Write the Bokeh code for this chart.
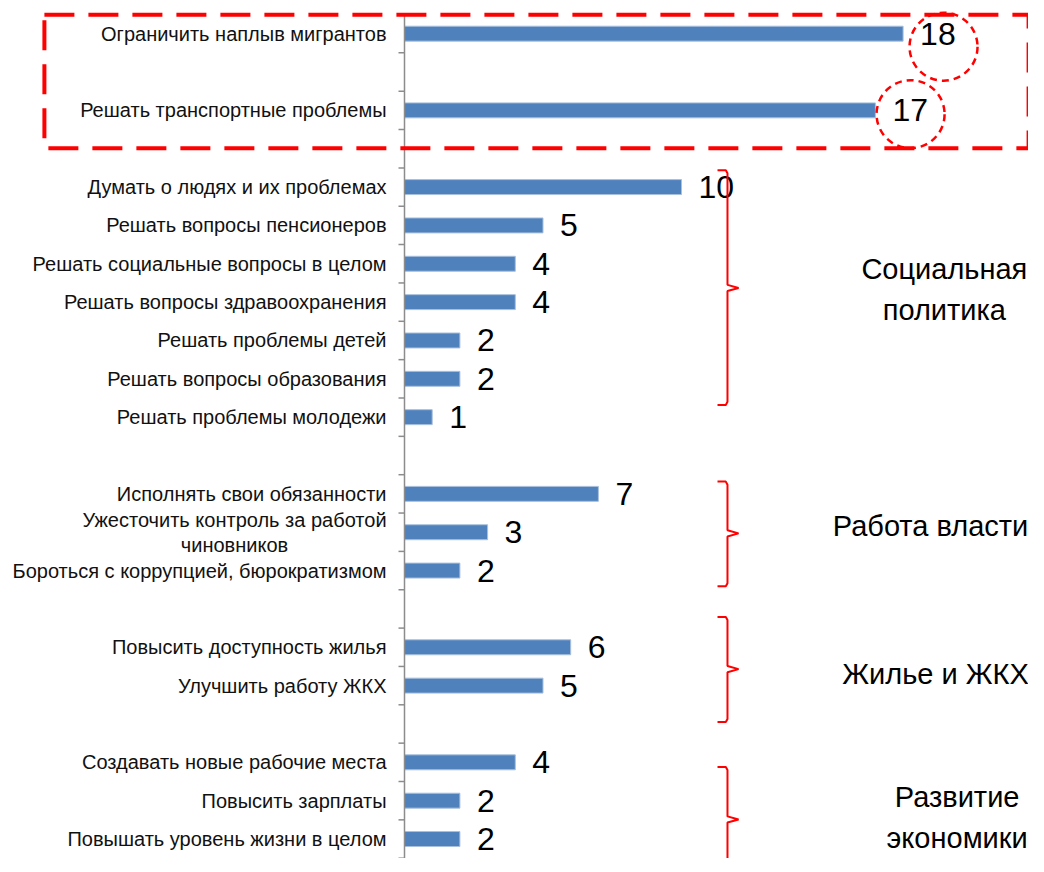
from bokeh.plotting import figure
from bokeh.models import Range1d, ColumnDataSource
from bokeh.core.properties import value
from bokeh.embed import file_html
from bokeh.resources import INLINE

# ---------------- data ----------------
labels = [
    "Ограничить наплыв мигрантов",
    "Решать транспортные проблемы",
    "Думать о людях и их проблемах",
    "Решать вопросы пенсионеров",
    "Решать социальные вопросы в целом",
    "Решать вопросы здравоохранения",
    "Решать проблемы детей",
    "Решать вопросы образования",
    "Решать проблемы молодежи",
    "Исполнять свои обязанности",
    "Ужесточить контроль за работой\nчиновников",
    "Бороться с коррупцией, бюрократизмом",
    "Повысить доступность жилья",
    "Улучшить работу ЖКХ",
    "Создавать новые рабочие места",
    "Повысить зарплаты",
    "Повышать уровень жизни в целом",
]
values = [18, 17, 10, 5, 4, 4, 2, 2, 1, 7, 3, 2, 6, 5, 4, 2, 2]
group_sizes = [1, 1, 7, 3, 2, 3]
group_titles = ["Социальная\nполитика", "Работа власти", "Жилье и ЖКХ", "Развитие\nэкономики"]

# ---------------- annotation placement (slot / value units) ----------------
brace_top = [3.56, 11.68, 15.21, 19.12]
brace_bottom = [9.68, 14.41, 17.95, 22.8]
brace_tip = [6.63, 13.03, 16.57, 20.49]
brace_x, brace_hook_x, brace_tip_x = 11.66, 11.30, 12.06
group_label_x = [19.49, 18.99, 19.17, 19.95]
group_label_y = [6.68, 12.85, 16.7, 20.44]
highlight_x = [19.46, 18.27]
highlight_y = [0.34, 2.10]

# ---------------- slots ----------------
slot_y = []
pos = 0
for gs in group_sizes:
    for _ in range(gs):
        slot_y.append(pos)
        pos += 1
    pos += 1
n_slots = pos - 1
tick_y = [i - 0.5 for i in range(n_slots + 1)]

W, H = 1028, 858
px_per_unit = 27.7
px_per_slot = 38.35
axis_px = 404
top_px = 14
x0 = -axis_px / px_per_unit
x1 = x0 + W / px_per_unit
y_top = -0.5 - top_px / px_per_slot
y_bot = y_top + H / px_per_slot

p = figure(width=W, height=H, output_backend="svg", toolbar_location=None,
           x_range=Range1d(x0, x1), y_range=Range1d(y_bot, y_top),
           x_axis_location=None, y_axis_location=None,
           min_border=0, min_border_left=0, min_border_right=0,
           min_border_top=0, min_border_bottom=0)
p.outline_line_color = None
p.xgrid.visible = False
p.ygrid.visible = False
p.background_fill_color = "white"

# multi-line labels are centred as a block, single-line ones right-aligned
lab_align = ["center" if "\n" in s else "right" for s in labels]
lab_off = [-170 if "\n" in s else -18 for s in labels]

src = ColumnDataSource(dict(y=slot_y, v=values, lab=labels, vt=[str(v) for v in values],
                            al=lab_align, off=lab_off))

# bars
p.hbar(y="y", left=0, right="v", height=0.39, source=src,
       fill_color="#4f81bd", line_color="#a9c0dd", line_width=1)

# axis line and ticks
tick_len = 6 / px_per_unit
p.segment(x0=[0], y0=[tick_y[0]], x1=[0], y1=[tick_y[-1]],
          line_color="#8c8c8c", line_width=1.5)
p.segment(x0=[-tick_len] * len(tick_y), y0=tick_y, x1=[0] * len(tick_y), y1=tick_y,
          line_color="#8c8c8c", line_width=1.5)

# category labels
p.text(x=0, y="y", text="lab", source=src, x_offset="off",
       text_align="al", text_baseline="middle",
       text_font=value("Liberation Sans"), text_font_size="20px",
       text_color="#111111", text_line_height=1.15)

# value labels
p.text(x="v", y="y", text="vt", source=src, x_offset=17,
       text_align="left", text_baseline="middle",
       text_font=value("Liberation Sans"), text_font_size="32px",
       text_color="black")

# braces
xs, ys = [], []
for t, b, m in zip(brace_top, brace_bottom, brace_tip):
    d = 0.08
    xs.append([brace_hook_x, brace_x - 0.06, brace_x, brace_x, brace_tip_x,
               brace_x, brace_x, brace_x - 0.06, brace_hook_x])
    ys.append([t, t, t + d, m - d, m, m + d, b - d, b, b])
p.multi_line(xs=xs, ys=ys, line_color="red", line_width=2)

# group labels
p.text(x=group_label_x, y=group_label_y, text=group_titles,
       text_align="center", text_baseline="middle",
       text_font=value("Liberation Sans"), text_font_size="29px",
       text_color="black", text_line_height=1.28)

# highlight box and circles
p.quad(left=[-13.0], right=[22.53], top=[-0.494], bottom=[2.99],
       fill_color=None, line_color="red", line_width=4, line_dash="30 14")
p.scatter(x=highlight_x, y=highlight_y, size=68, marker="circle",
          fill_color=None, line_color="red", line_width=2.5, line_dash="7 5")

open("out.html", "w").write(file_html(p, INLINE))
